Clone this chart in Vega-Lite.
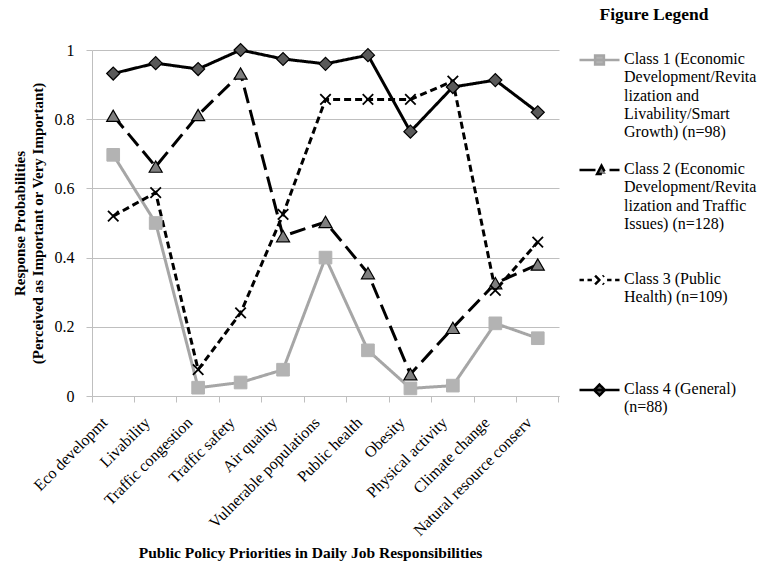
{
  "$schema": "https://vega.github.io/schema/vega-lite/v6.json",
  "width": 467,
  "height": 346,
  "autosize": {"type": "none"},
  "padding": {"left": 92, "top": 50, "right": 205, "bottom": 176},
  "background": "#ffffff",
  "config": {"view": {"stroke": null}, "font": "Liberation Serif"},
  "data": {"values": [
    {"cat": "Eco developmt", "class": "Class 1", "p": 0.697},
    {"cat": "Livability", "class": "Class 1", "p": 0.5},
    {"cat": "Traffic congestion", "class": "Class 1", "p": 0.024},
    {"cat": "Traffic safety", "class": "Class 1", "p": 0.039},
    {"cat": "Air quality", "class": "Class 1", "p": 0.076},
    {"cat": "Vulnerable populations", "class": "Class 1", "p": 0.4},
    {"cat": "Public health", "class": "Class 1", "p": 0.132},
    {"cat": "Obesity", "class": "Class 1", "p": 0.022},
    {"cat": "Physical activity", "class": "Class 1", "p": 0.03},
    {"cat": "Climate change", "class": "Class 1", "p": 0.21},
    {"cat": "Natural resource conserv", "class": "Class 1", "p": 0.167},
    {"cat": "Eco developmt", "class": "Class 2", "p": 0.81},
    {"cat": "Livability", "class": "Class 2", "p": 0.663},
    {"cat": "Traffic congestion", "class": "Class 2", "p": 0.812},
    {"cat": "Traffic safety", "class": "Class 2", "p": 0.932},
    {"cat": "Air quality", "class": "Class 2", "p": 0.462},
    {"cat": "Vulnerable populations", "class": "Class 2", "p": 0.503},
    {"cat": "Public health", "class": "Class 2", "p": 0.355},
    {"cat": "Obesity", "class": "Class 2", "p": 0.063},
    {"cat": "Physical activity", "class": "Class 2", "p": 0.197},
    {"cat": "Climate change", "class": "Class 2", "p": 0.326},
    {"cat": "Natural resource conserv", "class": "Class 2", "p": 0.38},
    {"cat": "Eco developmt", "class": "Class 3", "p": 0.52},
    {"cat": "Livability", "class": "Class 3", "p": 0.588},
    {"cat": "Traffic congestion", "class": "Class 3", "p": 0.076},
    {"cat": "Traffic safety", "class": "Class 3", "p": 0.24},
    {"cat": "Air quality", "class": "Class 3", "p": 0.525},
    {"cat": "Vulnerable populations", "class": "Class 3", "p": 0.857},
    {"cat": "Public health", "class": "Class 3", "p": 0.857},
    {"cat": "Obesity", "class": "Class 3", "p": 0.857},
    {"cat": "Physical activity", "class": "Class 3", "p": 0.91},
    {"cat": "Climate change", "class": "Class 3", "p": 0.305},
    {"cat": "Natural resource conserv", "class": "Class 3", "p": 0.445},
    {"cat": "Eco developmt", "class": "Class 4", "p": 0.932},
    {"cat": "Livability", "class": "Class 4", "p": 0.962},
    {"cat": "Traffic congestion", "class": "Class 4", "p": 0.945},
    {"cat": "Traffic safety", "class": "Class 4", "p": 1.0},
    {"cat": "Air quality", "class": "Class 4", "p": 0.974},
    {"cat": "Vulnerable populations", "class": "Class 4", "p": 0.96},
    {"cat": "Public health", "class": "Class 4", "p": 0.985},
    {"cat": "Obesity", "class": "Class 4", "p": 0.764},
    {"cat": "Physical activity", "class": "Class 4", "p": 0.893},
    {"cat": "Climate change", "class": "Class 4", "p": 0.913},
    {"cat": "Natural resource conserv", "class": "Class 4", "p": 0.82}
  ]},
  "encoding": {
    "x": {
      "field": "cat", "type": "nominal", "sort": null,
      "scale": {"type": "band", "paddingInner": 0, "paddingOuter": 0},
      "axis": {
        "title": "Public Policy Priorities in Daily Job Responsibilities",
        "titleFont": "Liberation Serif", "titleFontSize": 15.5, "titleFontWeight": "bold", "titleColor": "#000000",
        "titlePadding": 7, "titleX": 218,
        "labelAngle": -45, "labelFont": "Liberation Serif", "labelFontSize": 16, "labelColor": "#000000",
        "labelOffset": -14, "labelPadding": 12,
        "bandPosition": 1, "tickExtra": true,
        "domainColor": "#bfbfbf", "tickColor": "#bfbfbf", "tickSize": 6, "grid": false
      }
    },
    "y": {
      "field": "p", "type": "quantitative",
      "scale": {"domain": [0, 1], "nice": false},
      "axis": {
        "values": [0, 0.2, 0.4, 0.6, 0.8, 1], "format": ".1~f",
        "title": ["Response Probabilities", "(Perceived as Important or Very Important)"],
        "titleFont": "Liberation Serif", "titleFontSize": 15, "titleFontWeight": "bold", "titleColor": "#000000",
        "titleLineHeight": 18, "titlePadding": 9,
        "labelFont": "Liberation Serif", "labelFontSize": 16, "labelColor": "#000000", "labelPadding": 12,
        "domainColor": "#bfbfbf", "tickColor": "#bfbfbf", "tickSize": 6,
        "grid": true, "gridColor": "#bfbfbf", "gridWidth": 1
      }
    }
  },
  "layer": [
    {
      "mark": {"type": "line", "strokeWidth": 3},
      "encoding": {
        "color": {
          "field": "class", "type": "nominal",
          "scale": {"domain": ["Class 1", "Class 2", "Class 3", "Class 4"], "range": ["#a6a6a6", "#000000", "#000000", "#000000"]},
          "legend": {
            "orient": "none", "legendX": 486, "legendY": -44,
            "title": "Figure Legend", "titleFont": "Liberation Serif", "titleFontSize": 17.5, "titleFontWeight": "bold",
            "titleColor": "#000000", "titleAnchor": "middle", "titlePadding": 15,
            "labelFont": "Liberation Serif", "labelFontSize": 16, "labelColor": "#000000", "labelLimit": 400,
            "labelOffset": 3, "rowPadding": 8, "symbolSize": 1600, "symbolStrokeWidth": 2.5,
            "labelExpr": "datum.value == 'Class 1' ? ['Class 1 (Economic', 'Development/Revita', 'lization and', 'Livability/Smart', 'Growth) (n=98)'] : datum.value == 'Class 2' ? ['Class 2 (Economic', 'Development/Revita', 'lization and Traffic', 'Issues) (n=128)', ''] : datum.value == 'Class 3' ? ['Class 3 (Public', 'Health) (n=109)', '', '', ''] : ['Class 4 (General)', '(n=88)', '', '', '']",
            "encode": {
              "title": {"update": {"dx": {"value": -13}}},
              "symbols": {"update": {
                "shape": {"signal": "datum.value == 'Class 1' ? 'M-1,0L1,0M-0.22,-0.22L0.22,-0.22L0.22,0.22L-0.22,0.22Z' : datum.value == 'Class 2' ? 'M-1,0L-0.15,0M-0.12,0.2L0.1,-0.22L0.32,0.2ZM0.5,0L1,0' : datum.value == 'Class 3' ? 'M-1,0L-0.78,0M-0.6,0L-0.38,0M-0.22,-0.22L0.22,0.22M-0.22,0.22L0.22,-0.22M0.38,0L0.6,0M0.78,0L1,0' : 'M-1,0L1,0M0,-0.27L0.27,0L0,0.27L-0.27,0Z'"},
                "size": {"value": 1600},
                "fill": {"signal": "datum.value == 'Class 1' ? '#b3b3b3' : datum.value == 'Class 2' ? '#7f7f7f' : datum.value == 'Class 3' ? 'transparent' : '#595959'"},
                "stroke": {"signal": "datum.value == 'Class 1' ? '#a6a6a6' : '#000000'"},
                "strokeWidth": {"value": 2.5},
                "strokeDash": {"value": [1, 0]},
                "opacity": {"value": 1}
              }},
              "labels": {"update": {"baseline": {"value": "top"}, "dy": {"value": -9}, "lineHeight": {"value": 18.3}}}
            }
          }
        },
        "strokeDash": {
          "field": "class", "type": "nominal",
          "scale": {"domain": ["Class 1", "Class 2", "Class 3", "Class 4"], "range": [[1, 0], [16, 7], [7, 4], [1, 0]]},
          "legend": null
        }
      }
    },
    {
      "transform": [{"filter": {"field": "class", "equal": "Class 1"}}],
      "mark": {"type": "point", "shape": "square", "filled": true, "opacity": 1, "fill": "#b3b3b3", "stroke": "#b3b3b3", "strokeWidth": 1, "size": 160}
    },
    {
      "transform": [{"filter": {"field": "class", "equal": "Class 2"}}],
      "mark": {"type": "point", "shape": "triangle-up", "filled": true, "opacity": 1, "fill": "#7f7f7f", "stroke": "#000000", "strokeWidth": 1.2, "size": 170}
    },
    {
      "transform": [{"filter": {"field": "class", "equal": "Class 3"}}],
      "mark": {"type": "point", "shape": "M-1,-1L1,1M-1,1L1,-1", "filled": false, "opacity": 1, "stroke": "#000000", "strokeWidth": 1.8, "size": 110}
    },
    {
      "transform": [{"filter": {"field": "class", "equal": "Class 4"}}],
      "mark": {"type": "point", "shape": "diamond", "filled": true, "opacity": 1, "fill": "#595959", "stroke": "#000000", "strokeWidth": 1.2, "size": 170}
    }
  ]
}
